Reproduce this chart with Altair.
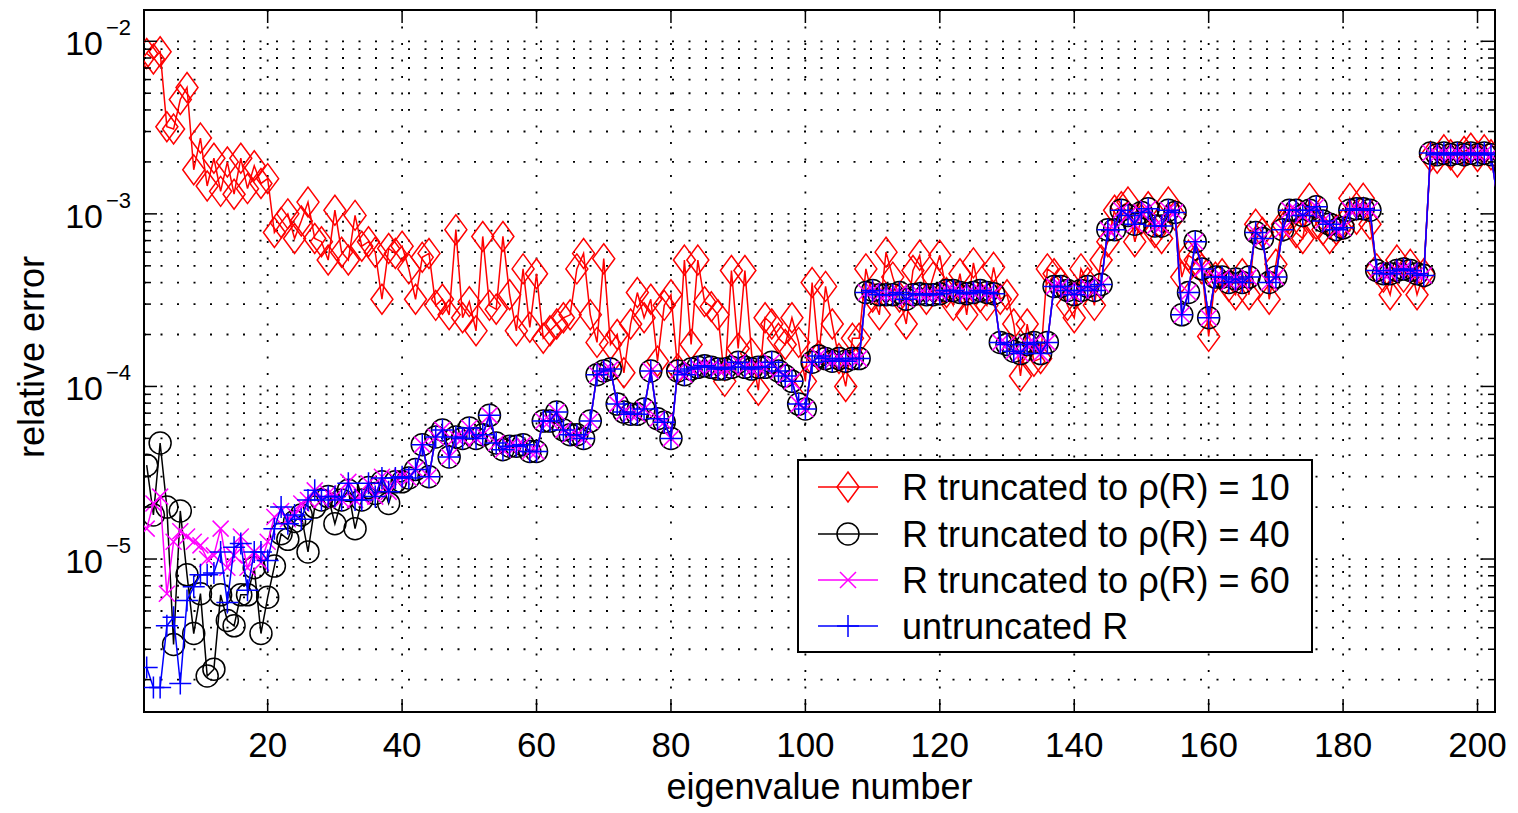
import altair as alt
import pandas as pd

# ---------------- data ----------------
# relative error, eigenvalue numbers 2..202
red_vals = [
    8.5e-3, 7.9e-3, 8.7e-3, 3.2e-3, 3.1e-3, 4.6e-3, 5.4e-3, 1.8e-3, 2.75e-3, 1.45e-3,
    2.1e-3, 1.35e-3, 2.0e-3, 1.3e-3, 2.1e-3, 1.4e-3, 1.9e-3, 1.5e-3, 1.6e-3, 7.8e-4,
    8.9e-4, 1.0e-3, 7.2e-4, 9.1e-4, 1.17e-3, 7.2e-4, 6.9e-4, 5.4e-4, 1.05e-3, 6.0e-4,
    5.4e-4, 9.8e-4, 6.5e-4, 6.9e-4, 6.0e-4, 3.2e-4, 6.3e-4, 5.9e-4, 6.5e-4, 4.8e-4,
    3.2e-4, 5.6e-4, 5.9e-4, 2.95e-4, 3.2e-4, 2.6e-4, 8.1e-4, 2.5e-4, 3.1e-4, 2.1e-4,
    7.4e-4, 2.95e-4, 2.8e-4, 7.4e-4, 3.4e-4, 2.1e-4, 4.8e-4, 2.2e-4, 4.5e-4, 1.9e-4,
    2.1e-4, 2.3e-4, 2.5e-4, 2.6e-4, 4.8e-4, 5.9e-4, 2.6e-4, 1.8e-4, 5.5e-4, 1.75e-4,
    2.0e-4, 1.2e-4, 2.3e-4, 3.5e-4, 2.5e-4, 3.2e-4, 1.4e-4, 2.95e-4, 3.4e-4, 1.26e-4,
    5.4e-4, 1.75e-4, 5.4e-4, 3.1e-4, 2.9e-4, 2.6e-4, 1.07e-4, 4.7e-4, 1.66e-4, 4.7e-4,
    1.55e-4, 9.5e-5, 2.5e-4, 2.3e-4, 1.9e-4, 1.75e-4, 2.5e-4, 1.8e-4, 1.07e-4, 4.0e-4,
    1.5e-4, 3.8e-4, 2.3e-4, 1.45e-4, 1.0e-4, 1.9e-4, 1.9e-4, 4.8e-4, 3.3e-4, 2.6e-4,
    6.0e-4, 4.3e-4, 3.3e-4, 2.3e-4, 4.7e-4, 5.75e-4, 3.2e-4, 4.3e-4, 5.75e-4, 3.5e-4,
    2.95e-4, 4.5e-4, 2.6e-4, 5.2e-4, 3.3e-4, 2.95e-4, 4.9e-4, 3.2e-4, 3.4e-4, 2.3e-4,
    1.15e-4, 2.3e-4, 1.4e-4, 1.45e-4, 4.8e-4, 4.5e-4, 4.0e-4, 2.95e-4, 2.5e-4, 4.8e-4,
    4.0e-4, 2.95e-4, 5.4e-4, 6.9e-4, 1.05e-3, 1.1e-3, 1.17e-3, 6.9e-4, 9.3e-4, 1.1e-3,
    7.8e-4, 7.2e-4, 1.17e-3, 9.8e-4, 4.3e-4, 5.75e-4, 5.4e-4, 4.8e-4, 1.95e-4, 4.3e-4,
    4.5e-4, 3.8e-4, 3.4e-4, 4.5e-4, 3.4e-4, 8.7e-4, 7.8e-4, 3.2e-4, 5.1e-4, 8.7e-4,
    9.3e-4, 7.8e-4, 7.2e-4, 1.23e-3, 8.7e-4, 8.1e-4, 7.2e-4, 8.1e-4, 8.7e-4, 1.23e-3,
    9.3e-4, 1.23e-3, 8.7e-4, 4.8e-4, 4.3e-4, 3.4e-4, 5.4e-4, 4.3e-4, 5.1e-4, 3.4e-4,
    4.5e-4, 2.15e-3, 2.1e-3, 2.35e-3, 2.2e-3, 2.0e-3, 2.3e-3, 2.4e-3, 2.15e-3, 2.35e-3,
    2.2e-3,
]

# eigenvalues 2..40, where the three lower curves still differ
black_head = [
    3.5e-5, 1.8e-5, 4.7e-5, 2.0e-5, 3.2e-6, 1.9e-5, 8.1e-6, 3.7e-6, 6.3e-6, 2.1e-6,
    2.3e-6, 6.2e-6, 4.4e-6, 4.1e-6, 6.2e-6, 6.2e-6, 8.9e-6, 3.7e-6, 6.0e-6, 9.1e-6,
    1.4e-5, 1.3e-5, 1.65e-5, 1.8e-5, 1.1e-5, 2.0e-5, 2.2e-5, 2.3e-5, 1.6e-5, 2.2e-5,
    2.5e-5, 1.5e-5, 2.2e-5, 2.6e-5, 2.4e-5, 2.8e-5, 2.1e-5, 2.8e-5, 2.8e-5,
]
magenta_head = [
    1.5e-5, 2.1e-5, 2.3e-5, 6.3e-6, 1.26e-5, 1.45e-5, 1.35e-5, 1.26e-5, 1.2e-5, 1.0e-5,
    1.05e-5, 1.5e-5, 8.9e-6, 1.05e-5, 1.35e-5, 8.9e-6, 1.1e-5, 9.5e-6, 1.26e-5, 1.75e-5,
    1.9e-5, 1.7e-5, 1.8e-5, 2.1e-5, 2.2e-5, 2.5e-5, 2.2e-5, 2.4e-5, 2.3e-5, 2.2e-5,
    2.8e-5, 2.2e-5, 2.3e-5, 2.75e-5, 2.3e-5, 3.0e-5, 2.45e-5, 2.9e-5, 3.0e-5,
]
blue_head = [
    2.35e-6, 1.8e-6, 1.8e-6, 4.1e-6, 4.6e-6, 1.9e-6, 5.75e-6, 6.9e-6, 8.1e-6, 8.1e-6,
    8.3e-6, 1.1e-5, 5.6e-6, 1.17e-5, 1.23e-5, 6.6e-6, 1.1e-5, 1.1e-5, 9.8e-6, 1.5e-5,
    2.0e-5, 1.6e-5, 1.8e-5, 1.7e-5, 2.2e-5, 2.5e-5, 2.2e-5, 2.3e-5, 2.3e-5, 2.2e-5,
    2.75e-5, 2.2e-5, 2.2e-5, 2.75e-5, 2.3e-5, 2.95e-5, 2.45e-5, 2.95e-5, 3.0e-5,
]
# eigenvalues 41..203, where rho=40, rho=60 and untruncated coincide
shared_tail = [
    2.95e-5, 3.3e-5, 4.6e-5, 3.0e-5, 5.1e-5, 5.6e-5, 3.9e-5, 5.1e-5, 5.0e-5, 5.75e-5,
    5.0e-5, 5.25e-5, 6.8e-5, 4.7e-5, 4.3e-5, 4.5e-5, 4.5e-5, 4.6e-5, 4.2e-5, 4.2e-5,
    6.3e-5, 6.3e-5, 7.1e-5, 5.6e-5, 5.25e-5, 5.25e-5, 5.0e-5, 6.3e-5, 1.17e-4, 1.23e-4,
    1.26e-4, 7.9e-5, 7.1e-5, 6.9e-5, 6.9e-5, 7.4e-5, 1.23e-4, 6.5e-5, 6.2e-5, 5.0e-5,
    1.23e-4, 1.17e-4, 1.26e-4, 1.29e-4, 1.32e-4, 1.29e-4, 1.26e-4, 1.26e-4, 1.29e-4, 1.38e-4,
    1.29e-4, 1.26e-4, 1.29e-4, 1.29e-4, 1.38e-4, 1.23e-4, 1.15e-4, 1.07e-4, 7.9e-5, 7.4e-5,
    1.38e-4, 1.5e-4, 1.45e-4, 1.4e-4, 1.45e-4, 1.4e-4, 1.45e-4, 1.45e-4, 3.5e-4, 3.6e-4,
    3.4e-4, 3.4e-4, 3.4e-4, 3.5e-4, 3.2e-4, 3.4e-4, 3.45e-4, 3.4e-4, 3.4e-4, 3.45e-4,
    3.6e-4, 3.6e-4, 3.5e-4, 3.45e-4, 3.5e-4, 3.6e-4, 3.5e-4, 3.45e-4, 1.8e-4, 1.75e-4,
    1.6e-4, 1.55e-4, 1.75e-4, 1.8e-4, 1.55e-4, 1.8e-4, 3.8e-4, 3.8e-4, 3.6e-4, 3.4e-4,
    3.6e-4, 3.8e-4, 3.6e-4, 3.9e-4, 8.1e-4, 8.1e-4, 1.05e-3, 9.8e-4, 8.7e-4, 1.02e-3,
    1.07e-3, 8.5e-4, 8.5e-4, 1.05e-3, 1.02e-3, 2.6e-4, 3.5e-4, 6.9e-4, 4.8e-4, 2.5e-4,
    4.3e-4, 4.3e-4, 4.0e-4, 4.2e-4, 4.0e-4, 4.3e-4, 7.8e-4, 7.2e-4, 4.0e-4, 4.3e-4,
    8.1e-4, 1.05e-3, 1.05e-3, 9.8e-4, 1.05e-3, 1.1e-3, 9.1e-4, 8.7e-4, 8.1e-4, 8.3e-4,
    1.05e-3, 1.07e-3, 1.07e-3, 1.05e-3, 4.7e-4, 4.5e-4, 4.5e-4, 4.7e-4, 4.8e-4, 4.7e-4,
    4.5e-4, 4.4e-4, 2.25e-3, 2.2e-3, 2.25e-3, 2.2e-3, 2.25e-3, 2.2e-3, 2.25e-3, 2.2e-3,
    2.25e-3, 2.2e-3, 1.2e-3,
]

x_ticks = [20, 40, 60, 80, 100, 120, 140, 160, 180, 200]
y_major = [1e-5, 1e-4, 1e-3, 1e-2]
y_major_exp = ["\u22125", "\u22124", "\u22123", "\u22122"]
legend_labels = [
    "R truncated to \u03c1(R) = 10",
    "R truncated to \u03c1(R) = 40",
    "R truncated to \u03c1(R) = 60",
    "untruncated R",
]

# ---------------- layout / style ----------------
W, H = 1351, 702
X_DOMAIN = [1.6, 202.6]
Y_DOMAIN = [1.299e-6, 1.518e-2]
FONT = "Liberation Sans"
LAST_X = 202

xscale = alt.Scale(domain=X_DOMAIN, nice=False, zero=False)
yscale = alt.Scale(type="log", domain=Y_DOMAIN, nice=False)

y_grid_major, y_grid_minor = [], []
for e in range(-6, -1):
    for m in range(1, 10):
        v = m * 10.0 ** e
        if Y_DOMAIN[0] <= v <= Y_DOMAIN[1]:
            (y_grid_major if m == 1 else y_grid_minor).append(v)
y_grid = sorted(y_grid_major + y_grid_minor)

SHAPE_DIAMOND = "M0,-1.36L1,0L0,1.36L-1,0Z"
SHAPE_CIRCLE = "circle"
SHAPE_X = "M-1,-1L1,1M-1,1L1,-1"
SHAPE_PLUS = "M-1,0L1,0M0,-1L0,1"

series = [
    (red_vals, "#ff0000", SHAPE_DIAMOND, 484),
    (black_head + shared_tail, "#000000", SHAPE_CIRCLE, 484),
    (magenta_head + shared_tail, "#ff00ff", SHAPE_X, 256),
    (blue_head + shared_tail, "#0000ff", SHAPE_PLUS, 484),
]

Xn = alt.X("x:Q", scale=xscale, axis=None)
Yn = alt.Y("y:Q", scale=yscale, axis=None)
Yv = alt.Y("v:Q", scale=yscale, axis=None)
Xt = alt.X("t:Q", scale=xscale, axis=None)

ymaj_df = pd.DataFrame({"v": y_grid_major})
ymin_df = pd.DataFrame({"v": y_grid_minor})
ygrid_df = pd.DataFrame({"v": y_grid})
xt_df = pd.DataFrame({"t": x_ticks})
one = pd.DataFrame({"k": [0]})

layers = []

# dotted grid (behind the data)
grid_style = dict(color="black", strokeWidth=1.8, strokeDash=[2, 14.5], strokeCap="butt")
layers += [
    alt.Chart(ygrid_df).mark_rule(**grid_style).encode(y=Yv, x=alt.value(0), x2=alt.value(W)),
    alt.Chart(xt_df).mark_rule(**grid_style).encode(x=Xt, y=alt.value(0), y2=alt.value(H)),
]

# data series
for vals, color, shape, size in series:
    df = pd.DataFrame({"x": list(range(2, 2 + len(vals))), "y": vals})
    dfp = df[df["x"] <= LAST_X]
    line = alt.Chart(df).mark_line(color=color, strokeWidth=1.5, clip=True).encode(x=Xn, y=Yn)
    pts = alt.Chart(dfp).mark_point(shape=shape, size=size, filled=False, color=color,
                                    strokeWidth=1.5, opacity=1, clip=True).encode(x=Xn, y=Yn)
    layers += [line, pts]

# inward ticks
tick_style = dict(color="black", strokeWidth=1.5)
layers += [
    alt.Chart(ymaj_df).mark_rule(**tick_style).encode(y=Yv, x=alt.value(0), x2=alt.value(13)),
    alt.Chart(ymaj_df).mark_rule(**tick_style).encode(y=Yv, x=alt.value(W - 13), x2=alt.value(W)),
    alt.Chart(ymin_df).mark_rule(**tick_style).encode(y=Yv, x=alt.value(0), x2=alt.value(7)),
    alt.Chart(ymin_df).mark_rule(**tick_style).encode(y=Yv, x=alt.value(W - 7), x2=alt.value(W)),
    alt.Chart(xt_df).mark_rule(**tick_style).encode(x=Xt, y=alt.value(H - 13), y2=alt.value(H)),
    alt.Chart(xt_df).mark_rule(**tick_style).encode(x=Xt, y=alt.value(0), y2=alt.value(13)),
]

# tick labels
ylab_df = pd.DataFrame({"v": y_major, "base": ["10"] * 4, "exp": y_major_exp})
layers += [
    alt.Chart(ylab_df).mark_text(font=FONT, fontSize=34, align="right", baseline="alphabetic",
                                 dy=14, color="black").encode(
        y=Yv, x=alt.value(-41), text="base:N"),
    alt.Chart(ylab_df).mark_text(font=FONT, fontSize=22, align="left", baseline="alphabetic",
                                 dy=-6, color="black").encode(
        y=Yv, x=alt.value(-38), text="exp:N"),
    alt.Chart(xt_df).mark_text(font=FONT, fontSize=35, align="center", baseline="alphabetic",
                               color="black").encode(
        x=Xt, y=alt.value(747), text="t:Q"),
]

# axis titles
layers += [
    alt.Chart(one).mark_text(font=FONT, fontSize=36, align="center", baseline="alphabetic",
                             color="black", text="eigenvalue number").encode(
        x=alt.value(W / 2), y=alt.value(789)),
    alt.Chart(one).mark_text(font=FONT, fontSize=36, align="center", baseline="alphabetic",
                             angle=270, color="black", text="relative error").encode(
        x=alt.value(-100), y=alt.value(347)),
]

# legend
LX0, LX1, LY0, LY1 = 654, 1168, 450, 642
layers.append(
    alt.Chart(one).mark_rect(fill="white", stroke="black", strokeWidth=2).encode(
        x=alt.value(LX0), x2=alt.value(LX1), y=alt.value(LY0), y2=alt.value(LY1)))
row_y = [477, 524, 570, 616]
for (vals, color, shape, size), label, ry in zip(series, legend_labels, row_y):
    layers += [
        alt.Chart(one).mark_rule(color=color, strokeWidth=1.5).encode(
            x=alt.value(674), x2=alt.value(734), y=alt.value(ry)),
        alt.Chart(one).mark_point(shape=shape, size=size, filled=False, color=color,
                                  strokeWidth=1.5, opacity=1).encode(
            x=alt.value(704), y=alt.value(ry)),
        alt.Chart(one).mark_text(font=FONT, fontSize=36, align="left", baseline="alphabetic",
                                 color="black", text=label).encode(
            x=alt.value(758), y=alt.value(ry + 13)),
    ]

chart = alt.layer(*layers).properties(
    width=W, height=H,
    padding={"left": 144, "top": 10, "right": 23, "bottom": 96},
    autosize=alt.AutoSizeParams(type="none"),
    background="white",
).configure_view(
    stroke="black", strokeWidth=2
)

chart.save("out.html", embed_options={"renderer": "svg", "actions": False})
